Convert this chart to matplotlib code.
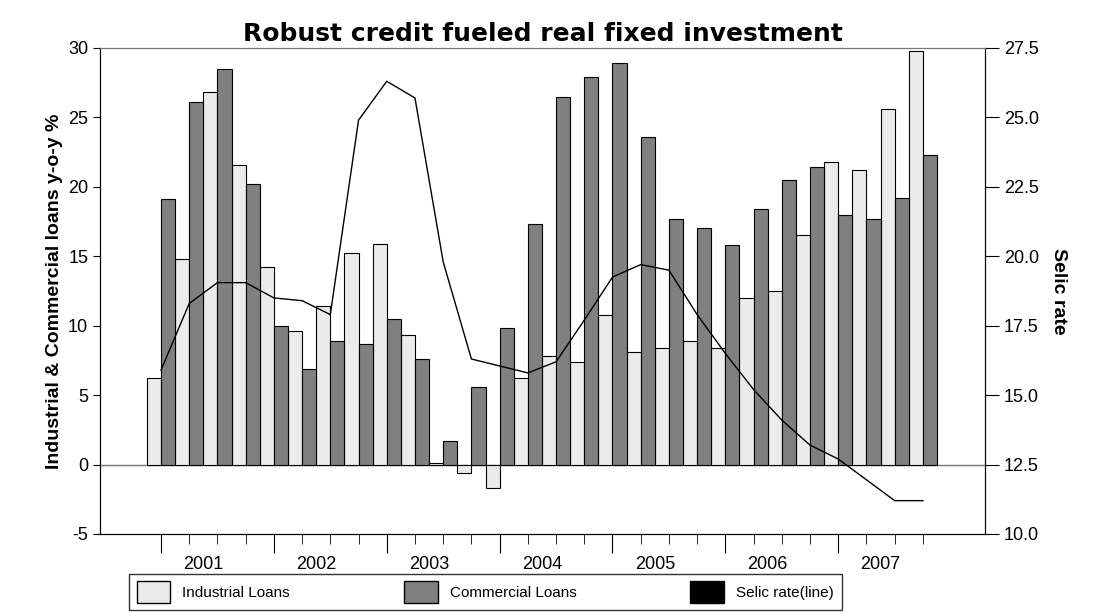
import numpy as np
import matplotlib
matplotlib.use('Agg')
import matplotlib.pyplot as plt
from matplotlib.patches import Patch

plt.rcParams['font.family'] = ['Liberation Sans', 'DejaVu Sans']
plt.rcParams['axes.unicode_minus'] = False

# quarterly data, 2000Q4 .. 2007Q3
industrial = [6.2, 14.8, 26.8, 21.6, 14.2, 9.6, 11.4, 15.2, 15.9, 9.3, 0.1, -0.6, -1.7, 6.2,
              7.8, 7.4, 10.8, 8.1, 8.4, 8.9, 8.4, 12.0, 12.5, 16.5, 21.8, 21.2, 25.6, 29.8]
commercial = [19.1, 26.1, 28.5, 20.2, 10.0, 6.9, 8.9, 8.7, 10.5, 7.6, 1.7, 5.6, 9.8, 17.3,
              26.5, 27.9, 28.9, 23.6, 17.7, 17.0, 15.8, 18.4, 20.5, 21.4, 18.0, 17.7, 19.2, 22.3]
selic = [15.9, 18.3, 19.05, 19.05, 18.5, 18.4, 17.9, 24.9, 26.3, 25.7, 19.8, 16.3, 16.05, 15.8,
         16.2, 17.7, 19.25, 19.7, 19.5, 17.9, 16.5, 15.2, 14.1, 13.2, 12.7, 11.95, 11.2, 11.2]
years = ['2001', '2002', '2003', '2004', '2005', '2006', '2007']

light = '#ebebeb'
dark = '#808080'

x = np.arange(len(industrial))

fig = plt.figure(figsize=(11.03, 6.12), dpi=100)
ax = fig.add_axes([0.0907, 0.1275, 0.8023, 0.7941])
ax.bar(x - 0.25, industrial, width=0.5, color=light, edgecolor='black', linewidth=0.8, zorder=2)
ax.bar(x + 0.25, commercial, width=0.5, color=dark, edgecolor='black', linewidth=0.8, zorder=2)
ax.axhline(0, color='#777777', linewidth=1, zorder=1)
ax.set_xlim(-2.16, 29.2)
ax.set_ylim(-5, 30)
ax.set_yticks(range(-5, 31, 5))
ax.set_xticks(x, minor=True)
ax.set_xticks(x[::4])
ax.set_xticklabels([])
ax.tick_params(axis='x', which='major', length=14, direction='out')
ax.tick_params(axis='x', which='minor', length=7, direction='out')
ax.tick_params(axis='y', labelsize=13, length=5, direction='out')
for i, yr in enumerate(years):
    ax.text(4 * i + 1.5, -6.6, yr, ha='center', va='top', fontsize=13)
ax.spines['top'].set_color('#777777')
ax.set_ylabel('Industrial & Commercial loans y-o-y %', fontsize=14, fontweight='bold')
ax.set_title('Robust credit fueled real fixed investment', fontsize=18, fontweight='heavy', pad=5,
             family=['DejaVu Sans'])

ax2 = ax.twinx()
ax2.plot(x, selic, color='black', linewidth=1, zorder=3)
ax2.set_ylim(10, 27.5)
ax2.set_yticks(np.arange(10, 27.6, 2.5))
ax2.set_yticklabels(['%.1f' % v for v in np.arange(10, 27.6, 2.5)])
ax2.tick_params(axis='y', labelsize=13, length=10, direction='out')
ax2.spines['top'].set_color('#777777')
ax2.set_ylabel('Selic rate', fontsize=14, fontweight='bold', rotation=270, labelpad=20)

handles = [Patch(facecolor=light, edgecolor='black'), Patch(facecolor=dark, edgecolor='black'),
           Patch(facecolor='black', edgecolor='black')]
leg = fig.legend(handles, ['Industrial Loans', 'Commercial Loans', 'Selic rate(line)'],
                 loc='lower left', bbox_to_anchor=(0.11, -0.01, 0.66, 0.06), mode='expand',
                 ncol=3, fontsize=11, frameon=True, fancybox=False, handlelength=2.2,
                 handleheight=1.8, borderpad=0.5)
leg.get_frame().set_edgecolor('black')

fig.savefig('out.png', dpi=100)
